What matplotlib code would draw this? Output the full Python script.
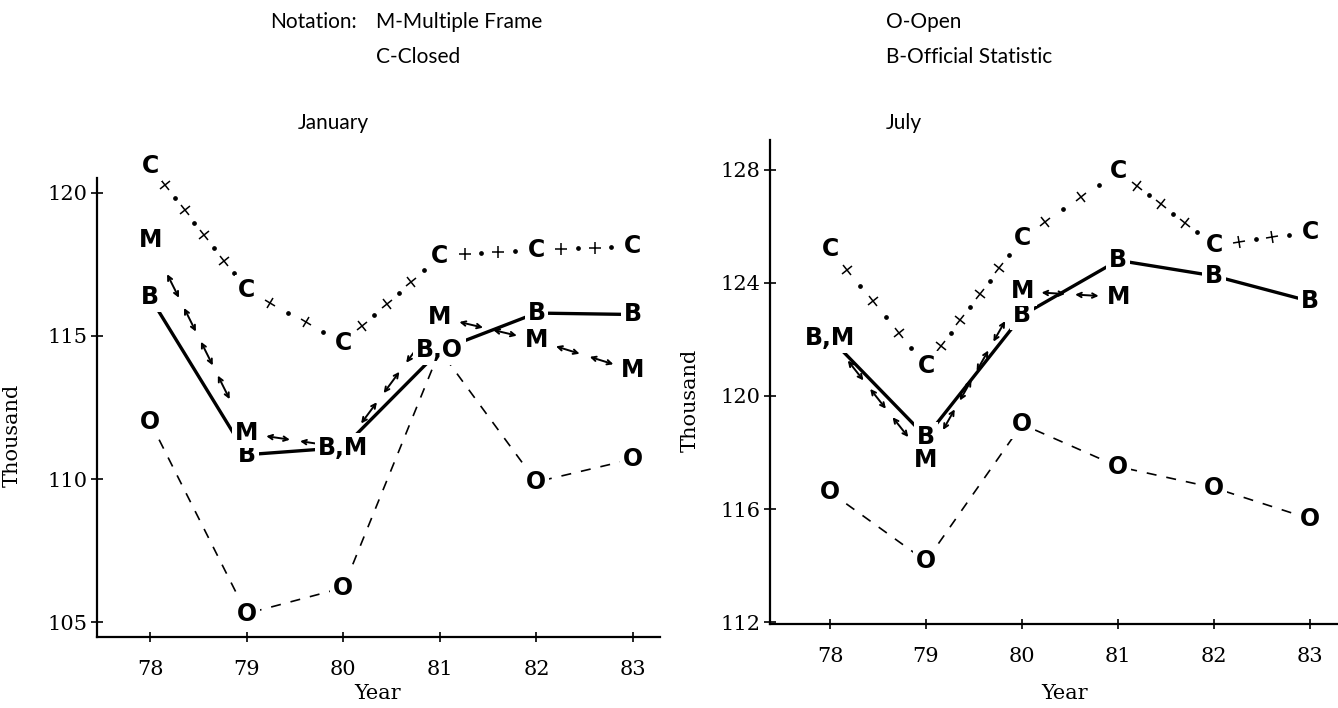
import matplotlib
matplotlib.use('Agg')
import matplotlib.pyplot as plt
from matplotlib.markers import MarkerStyle
from matplotlib.transforms import Affine2D
import numpy as np

years = [78, 79, 80, 81, 82, 83]

# January, thousand
jan_closed = [120.95, 116.6, 114.75, 117.8, 118.0, 118.15]
jan_multiple = [118.35, 111.6, 111.1, 115.65, 114.85, 113.8]
jan_official = [116.35, 110.85, 111.1, 114.5, 115.8, 115.75]
jan_open = [112.0, 105.3, 106.2, 114.5, 109.9, 110.7]
jan_yticks = [105, 110, 115, 120]

# July, thousand
jul_closed = [125.2, 121.05, 125.6, 127.95, 125.35, 125.8]
jul_multiple = [122.05, 117.75, 123.7, 123.5, np.nan, np.nan]
jul_official = [122.05, 118.55, 122.85, 124.8, 124.25, 123.35]
jul_open = [116.6, 114.15, 119.0, 117.5, 116.75, 115.65]
jul_yticks = [112, 116, 120, 124, 128]

# how many little double arrows sit on each M segment
jan_arrows = [4, 2, 3, 2, 2]
jul_arrows = [3, 4, 2, 0, 0]

W, H = 1338, 708
fig = plt.figure(figsize=(W / 100, H / 100), dpi=100)
fig.patch.set_facecolor('white')

num_font = dict(family='DejaVu Serif', size=15)
head_font = dict(family='Lato', size=15)


def letter_labels(ax, series):
    # put the letters at each point, letters that fall together are joined with a comma
    for i, yr in enumerate(years):
        groups = []
        for letter, vals in series:
            v = vals[i]
            if np.isnan(v):
                continue
            for g in groups:
                if abs(g[1] - v) < 0.3:
                    g[0].append(letter)
                    break
            else:
                groups.append([[letter], v])
        for letters, v in groups:
            ax.text(yr, v, ','.join(letters), ha='center', va='center',
                    fontsize=17, fontweight='bold', family='DejaVu Sans',
                    zorder=5, clip_on=False,
                    bbox=dict(boxstyle='square,pad=0.12', fc='white', ec='none'))


def arrow_line(ax, ys, counts):
    for i, n in enumerate(counts):
        if n == 0 or np.isnan(ys[i]) or np.isnan(ys[i + 1]):
            continue
        x0, y0, x1, y1 = years[i], ys[i], years[i + 1], ys[i + 1]
        step = 0.7 / n
        for k in range(n):
            t0 = 0.15 + step * k + step * 0.15
            t1 = t0 + step * 0.7
            ax.annotate('', xy=(x0 + (x1 - x0) * t1, y0 + (y1 - y0) * t1),
                        xytext=(x0 + (x1 - x0) * t0, y0 + (y1 - y0) * t0),
                        arrowprops=dict(arrowstyle='<->', lw=1.4, color='k',
                                        mutation_scale=8, shrinkA=0, shrinkB=0),
                        zorder=3)


def cross_line(ax, ys, gap=15, every=36):
    # "+ . + ." line for the closed estimate, drawn in pixel steps
    pts = ax.transData.transform(np.column_stack([years, ys]))
    inv = ax.transData.inverted()
    for i in range(len(years) - 1):
        p0, p1 = pts[i], pts[i + 1]
        d = p1 - p0
        L = np.hypot(d[0], d[1])
        ang = np.degrees(np.arctan2(d[1], d[0]))
        inner = L - 2 * gap
        n = max(int(round(inner / every)), 1)
        step = inner / n
        u = d / L
        crosses = np.array([p0 + u * (gap + step * (k + 0.3)) for k in range(n)])
        dots = np.array([p0 + u * (gap + step * (k + 0.8)) for k in range(n)])
        c = inv.transform(crosses)
        dd = inv.transform(dots)
        mk = MarkerStyle('+', transform=Affine2D().rotate_deg(ang))
        ax.plot(c[:, 0], c[:, 1], linestyle='none', marker=mk, markersize=9,
                mew=1.1, color='k', zorder=2, clip_on=False)
        ax.plot(dd[:, 0], dd[:, 1], linestyle='none', marker='o', markersize=2.4,
                color='k', zorder=2, clip_on=False)


def panel(rect, closed, multiple, official, opened, counts, yticks, xlim, ylim,
          ylab_xy, xlab_xy):
    ax = fig.add_axes(rect)
    ax.set_facecolor('none')
    ax.set_xlim(*xlim)
    ax.set_ylim(*ylim)

    cross_line(ax, closed)
    ax.plot(years, official, color='k', lw=2.4, solid_capstyle='round',
            zorder=2, clip_on=False)
    ax.plot(years, opened, color='k', lw=1.2, linestyle=(0, (6, 6)),
            zorder=2, clip_on=False)
    arrow_line(ax, multiple, counts)
    letter_labels(ax, [('B', official), ('M', multiple), ('C', closed), ('O', opened)])

    ax.set_xticks(years)
    ax.set_xticklabels([str(y) for y in years], **num_font)
    ax.set_yticks(yticks)
    ax.set_yticklabels([str(t) for t in yticks], **num_font)
    for s in ['top', 'right']:
        ax.spines[s].set_visible(False)
    for s in ['left', 'bottom']:
        ax.spines[s].set_linewidth(1.6)
    ax.tick_params(axis='x', direction='inout', length=7, width=1.2, pad=13)
    ax.tick_params(axis='y', direction='inout', length=8, width=1.2, pad=3)
    ax.set_ylabel('Thousand', **num_font)
    ax.yaxis.set_label_coords(*ylab_xy)
    ax.set_xlabel('Year', **num_font)
    ax.xaxis.set_label_coords(*xlab_xy)
    return ax


def rect_px(x0, x1, ytop, ybot):
    return [x0 / W, 1 - ybot / H, (x1 - x0) / W, (ybot - ytop) / H]


panel(rect_px(97, 660, 178, 637), jan_closed, jan_multiple, jan_official, jan_open,
      jan_arrows, jan_yticks, (77.45, 83.28), (104.48, 120.52),
      (-0.133, 0.44), (0.499, -0.102))
panel(rect_px(770, 1338, 140, 624), jul_closed, jul_multiple, jul_official, jul_open,
      jul_arrows, jul_yticks, (77.375, 83.29), (111.93, 129.06),
      (-0.123, 0.463), (0.519, -0.124))

# header text
fig.text(270 / W, 1 - 22 / H, 'Notation:', va='center', ha='left', **head_font)
fig.text(376 / W, 1 - 22 / H, 'M-Multiple Frame', va='center', ha='left', **head_font)
fig.text(376 / W, 1 - 57 / H, 'C-Closed', va='center', ha='left', **head_font)
fig.text(886 / W, 1 - 22 / H, 'O-Open', va='center', ha='left', **head_font)
fig.text(886 / W, 1 - 57 / H, 'B-Official Statistic', va='center', ha='left', **head_font)
fig.text(298 / W, 1 - 123 / H, 'January', va='center', ha='left', **head_font)
fig.text(886 / W, 1 - 123 / H, 'July', va='center', ha='left', **head_font)

fig.savefig('out.png', dpi=100, facecolor='white')
